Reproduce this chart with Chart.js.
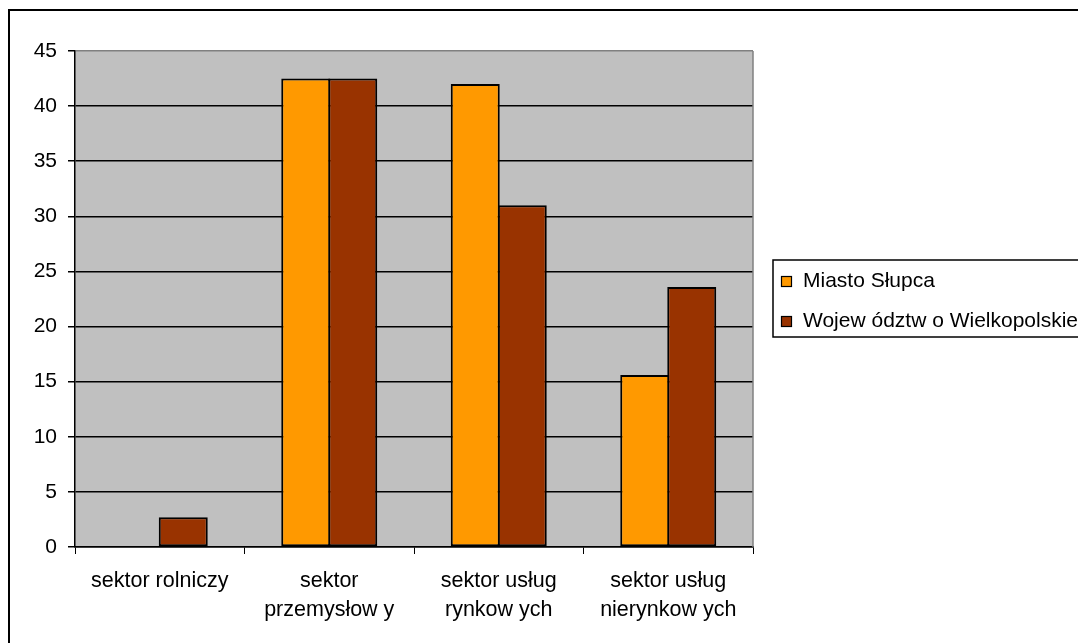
<!DOCTYPE html>
<html>
<head>
<meta charset="utf-8">
<script src="https://cdn.jsdelivr.net/npm/chart.js@4"></script>
<style>
  body { margin: 0; background: #fff; }
  canvas { display: block; }
</style>
</head>
<body>
<canvas id="myChart" width="1078" height="643"></canvas>
<script>
// Data
var categories = [
    ['sektor rolniczy'],
    ['sektor', 'przemysłow y'],
    ['sektor usług', 'rynkow ych'],
    ['sektor usług', 'nierynkow ych']
];
var seriesNames = ['Miasto Słupca', 'Wojew ództw o Wielkopolskie'];
var miastoSlupca = [0, 42.5, 42.0, 15.6];
var wojewodztwo = [2.7, 42.5, 31.0, 23.6];
var yTicks = [0, 5, 10, 15, 20, 25, 30, 35, 40, 45];

var FONT = 'Liberation Sans, Arial, sans-serif';

// Frame, grey plot area and the boxed legend (Excel look)
var excelLook = {
    id: 'excelLook',
    beforeDraw: function(chart) {
        var c = chart.ctx, a = chart.chartArea;
        c.save();
        c.fillStyle = '#fff';
        c.fillRect(0, 0, chart.width, chart.height);
        c.strokeStyle = '#000';
        c.lineWidth = 2;
        c.strokeRect(9, 10, 1200, 1000);
        c.fillStyle = '#C0C0C0';
        c.fillRect(a.left, a.top, a.right - a.left, a.bottom - a.top);
        c.restore();
    },
    afterDraw: function(chart) {
        var c = chart.ctx, a = chart.chartArea;
        c.save();
        // right edge of the plot area
        c.strokeStyle = '#808080';
        c.lineWidth = 1.5;
        c.beginPath();
        c.moveTo(a.right, a.top);
        c.lineTo(a.right, a.bottom);
        c.stroke();
        // legend
        c.strokeStyle = '#000';
        c.lineWidth = 1.5;
        c.strokeRect(773, 260, 400, 77);
        c.font = '21px ' + FONT;
        c.textBaseline = 'middle';
        chart.data.datasets.forEach(function(ds, i) {
            var y = 281.5 + i * 40;
            c.fillStyle = ds.backgroundColor;
            c.fillRect(781, y - 5.5, 11, 11);
            c.lineWidth = 1.2;
            c.strokeStyle = '#000';
            c.strokeRect(781.5, y - 5, 10, 10);
            c.fillStyle = '#000';
            c.fillText(ds.label, 803, y);
        });
        c.restore();
    }
};

var ctx = document.getElementById('myChart');
var myChart = new Chart(ctx, {
    type: 'bar',
    data: {
        labels: categories,
        datasets: [{
            label: seriesNames[0],
            data: miastoSlupca,
            backgroundColor: '#FF9900',
            borderColor: '#000',
            borderWidth: 2,
            borderSkipped: false,
            categoryPercentage: 0.5546,
            barPercentage: 1.0426
        }, {
            label: seriesNames[1],
            data: wojewodztwo,
            backgroundColor: '#993300',
            borderColor: '#000',
            borderWidth: 2,
            borderSkipped: false,
            categoryPercentage: 0.5546,
            barPercentage: 1.0426
        }]
    },
    options: {
        responsive: false,
        animation: false,
        events: [],
        layout: {
            padding: { left: 0, top: 51, right: 325, bottom: 0 }
        },
        plugins: {
            legend: { display: false },
            tooltip: { enabled: false }
        },
        scales: {
            x: {
                afterFit: function(scale) { scale.height = 96; },
                grid: {
                    offset: true,
                    drawOnChartArea: false,
                    drawTicks: true,
                    tickLength: 7,
                    tickColor: '#000'
                },
                border: { color: '#000', width: 1.5 },
                ticks: {
                    color: '#000',
                    padding: 12,
                    maxRotation: 0,
                    font: { family: FONT, size: 21.5, lineHeight: 1.36 }
                }
            },
            y: {
                min: 0,
                max: 45,
                afterFit: function(scale) { scale.width = 75; },
                afterBuildTicks: function(scale) {
                    scale.ticks = yTicks.map(function(v) { return { value: v }; });
                },
                grid: {
                    color: function(c) { return c.tick && c.tick.value === 45 ? '#808080' : '#000'; },
                    lineWidth: 1.5,
                    tickLength: 7,
                    tickColor: '#000'
                },
                border: { color: '#000', width: 1.5 },
                ticks: {
                    color: '#000',
                    padding: 11,
                    font: { family: FONT, size: 21 }
                }
            }
        }
    },
    plugins: [excelLook]
});
</script>
</body>
</html>
